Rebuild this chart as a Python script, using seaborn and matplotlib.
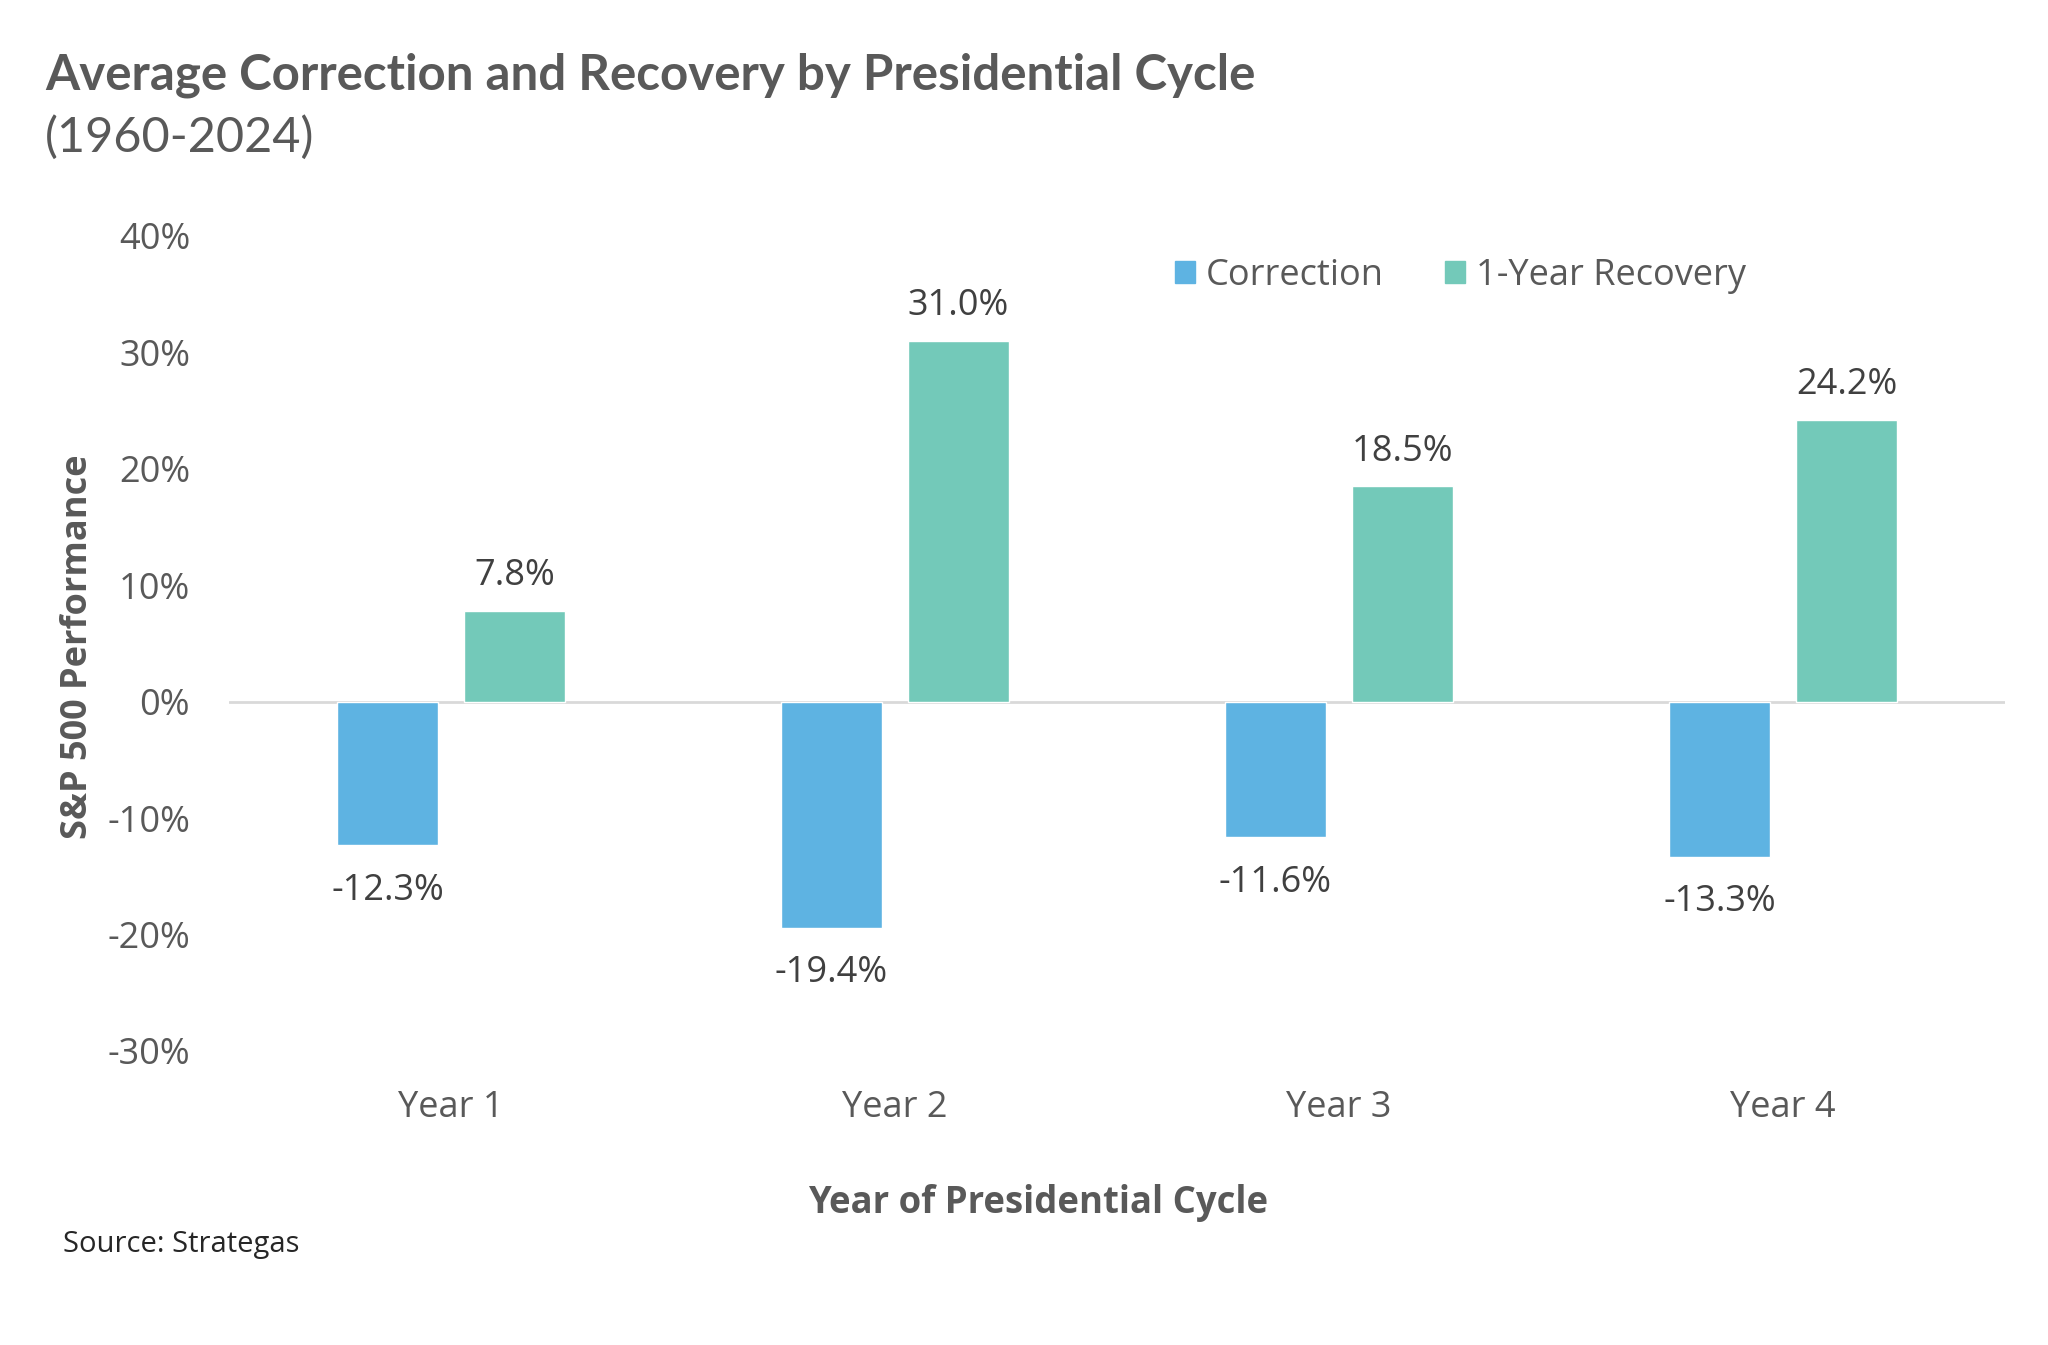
import pandas as pd
import matplotlib.pyplot as plt
import seaborn as sns

# chart data
years = ['Year 1', 'Year 2', 'Year 3', 'Year 4']
correction = [-12.3, -19.4, -11.6, -13.3]
recovery = [7.8, 31.0, 18.5, 24.2]
series_names = ['Correction', '1-Year Recovery']
y_ticks = [-30, -20, -10, 0, 10, 20, 30, 40]

df = pd.DataFrame({
    'year': years * 2,
    'series': [series_names[0]] * len(years) + [series_names[1]] * len(years),
    'value': correction + recovery,
})

sns.set_theme(style='white')
plt.rcParams['font.family'] = ['Open Sans', 'DejaVu Sans']

grey = '#595959'
palette = {'Correction': '#5EB3E2', '1-Year Recovery': '#73C9B9'}

fig = plt.figure(figsize=(20.48, 13.45), dpi=100)
ax = fig.add_axes([0.1118, 0.2186, 0.8672, 0.606])

sns.barplot(data=df, x='year', y='value', hue='series', palette=palette,
            width=0.572, gap=0.21, saturation=1, ax=ax, legend=False)

ax.set_xlim(-0.5, 3.5)
ax.set_ylim(-30, 40)
ax.set_yticks(y_ticks)
ax.set_yticklabels([f'{t}%' for t in y_ticks])
ax.tick_params(axis='y', length=0, pad=28, labelsize=26, labelcolor=grey)
ax.tick_params(axis='x', length=0, pad=28, labelsize=26, labelcolor=grey)
ax.set_xlabel('')
ax.set_ylabel('')
for side in ['top', 'right', 'left', 'bottom']:
    ax.spines[side].set_visible(False)
ax.axhline(0, color='#D9D9D9', lw=2, zorder=0)

# value labels
for cont in ax.containers:
    for bar in cont:
        h = bar.get_height()
        x = bar.get_x() + bar.get_width() / 2
        off = 25 if h >= 0 else -33
        ax.annotate(f'{h:.1f}%', (x, h), xytext=(0, off), textcoords='offset points',
                    ha='center', va='center', fontsize=26, color='#404040')

# legend
handles = [plt.Rectangle((0, 0), 1, 1, color=palette[s]) for s in series_names]
fig.legend(handles, series_names, loc='center', bbox_to_anchor=(0.713, 0.795), ncol=2,
           frameon=False, fontsize=26, labelcolor=grey, handlelength=0.55,
           handleheight=0.55, handletextpad=0.3, columnspacing=1.7)

# titles and axis labels
fig.text(0.022, 0.944, 'Average Correction and Recovery by Presidential Cycle',
         fontsize=35.5, fontweight='bold', color=grey, family=['Lato', 'DejaVu Sans'],
         va='center')
fig.text(0.022, 0.898, '(1960-2024)', fontsize=35, color=grey,
         family=['Lato', 'DejaVu Sans'], va='center')
fig.text(0.038, 0.519, 'S&P 500 Performance', rotation=90, fontsize=26,
         fontweight='bold', color=grey, ha='center', va='center')
fig.text(0.507, 0.1056, 'Year of Presidential Cycle', fontsize=26.3,
         fontweight='bold', color=grey, ha='center', va='center')
fig.text(0.031, 0.075, 'Source: Strategas', fontsize=21, color='#262626', va='center')

fig.savefig('out.png', dpi=100)
